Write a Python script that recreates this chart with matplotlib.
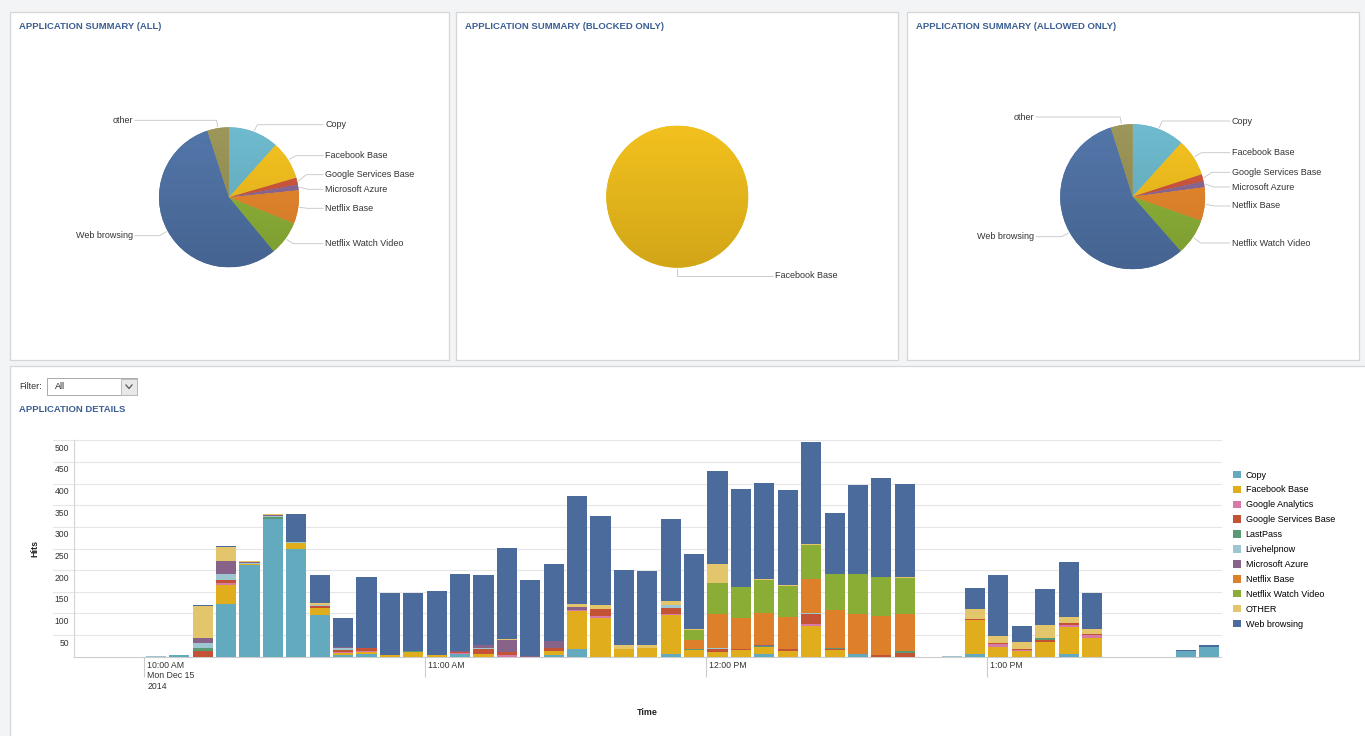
import matplotlib.pyplot as plt
import matplotlib.dates as mdates
import numpy as np
import pandas as pd
from matplotlib.colors import LinearSegmentedColormap, to_rgb
from matplotlib.patches import Rectangle
from matplotlib.transforms import ScaledTranslation

plt.rcParams["font.family"] = ["Liberation Sans", "DejaVu Sans"]

W, H = 1365, 736

# ---- pie data (share of hits, %) ----
pie_labels = ["Copy", "Facebook Base", "Google Services Base", "Microsoft Azure",
              "Netflix Base", "Netflix Watch Video", "Web browsing", "other"]
pie_colors = ["#68b2c5", "#ebba1c", "#c9543a", "#876592",
              "#e2842b", "#8aae36", "#4d6fa1", "#958f54"]
pie_all = [11.6, 8.9, 1.6, 1.3, 7.7, 7.9, 56.0, 5.0]
pie_allowed = [11.7, 8.35, 1.6, 1.3, 7.5, 8.1, 56.7, 4.9]
pie_blocked_labels = ["Facebook Base"]
pie_blocked = [100]

# ---- bar data: hits per 5 minute slot ----
slots = ["10:00", "10:05", "10:10", "10:15", "10:20", "10:25", "10:30", "10:35", "10:40", "10:45",
         "10:50", "10:55", "11:00", "11:05", "11:10", "11:15", "11:20", "11:25", "11:30", "11:35",
         "11:40", "11:45", "11:50", "11:55", "12:00", "12:05", "12:10", "12:15", "12:20", "12:25",
         "12:30", "12:35", "12:40", "12:45", "12:50", "12:55", "13:00", "13:05", "13:10", "13:15",
         "13:20", "13:25", "13:30", "13:35", "13:40", "13:45"]

copy = [0, 4, 0, 121, 212, 319, 248, 96, 3, 7,
        0, 0, 0, 6, 0, 0, 0, 4, 18, 0,
        0, 0, 7, 0, 0, 0, 7, 0, 0, 0,
        6, 0, 0, 0, 0, 7, 0, 0, 0, 7,
        0, 0, 0, 0, 14, 22]
facebook = [0, 0, 0, 44, 2, 0, 14, 16, 6, 3,
            4, 11, 3, 0, 7, 0, 0, 10, 87, 90,
            18, 19, 89, 15, 11, 15, 15, 13, 71, 15,
            0, 0, 0, 0, 0, 77, 22, 13, 35, 62,
            44, 0, 0, 0, 0, 0]
google_analytics = [0, 0, 0, 5, 0, 0, 0, 0, 3, 4,
                    0, 0, 0, 2, 0, 4, 0, 0, 3, 5,
                    0, 0, 3, 0, 0, 0, 0, 0, 4, 0,
                    0, 0, 0, 0, 0, 0, 7, 3, 0, 5,
                    5, 0, 0, 0, 0, 0]
google_services = [0, 0, 13, 8, 0, 0, 0, 5, 3, 5,
                   0, 1, 2, 3, 10, 7, 0, 7, 0, 15,
                   0, 0, 14, 0, 7, 2, 0, 5, 23, 2,
                   0, 3, 9, 0, 0, 4, 3, 2, 3, 5,
                   4, 0, 0, 0, 0, 0]
lastpass = [0, 0, 8, 0, 0, 3, 0, 0, 0, 0,
            0, 2, 0, 0, 0, 0, 0, 0, 0, 0,
            0, 0, 0, 2, 0, 0, 2, 0, 0, 2,
            0, 0, 5, 0, 0, 0, 0, 0, 6, 0,
            0, 0, 0, 0, 0, 0]
livehelpnow = [2, 0, 10, 14, 2, 3, 3, 3, 4, 0,
               0, 0, 0, 0, 4, 0, 0, 0, 0, 0,
               0, 0, 6, 0, 3, 0, 0, 0, 4, 2,
               0, 0, 0, 0, 2, 0, 0, 0, 0, 0,
               0, 0, 0, 0, 0, 0]
azure = [0, 0, 12, 29, 2, 2, 0, 0, 3, 2,
         0, 0, 0, 3, 5, 27, 2, 15, 7, 0,
         0, 0, 0, 0, 0, 0, 2, 0, 0, 0,
         0, 0, 0, 0, 0, 0, 0, 0, 0, 0,
         0, 0, 0, 0, 0, 0]
netflix_base = [0, 0, 0, 0, 0, 0, 0, 0, 0, 0,
                0, 0, 0, 0, 0, 0, 0, 0, 0, 0,
                0, 0, 0, 22, 78, 73, 75, 73, 78, 86,
                92, 92, 84, 0, 0, 0, 0, 0, 0, 0,
                0, 0, 0, 0, 0, 0]
netflix_video = [0, 0, 0, 0, 0, 0, 0, 0, 0, 0,
                 0, 0, 0, 0, 0, 0, 0, 0, 0, 0,
                 0, 0, 0, 22, 72, 70, 76, 73, 79, 84,
                 93, 90, 83, 0, 0, 0, 0, 0, 0, 0,
                 0, 0, 0, 0, 0, 0]
other = [0, 0, 75, 33, 2, 3, 0, 3, 0, 0,
         0, 0, 0, 0, 0, 2, 0, 0, 6, 9,
         9, 8, 9, 3, 44, 0, 2, 2, 1, 0,
         0, 0, 4, 0, 0, 22, 16, 15, 30, 13,
         12, 0, 0, 0, 0, 0]
web = [0, 0, 2, 2, 0, 0, 65, 66, 67, 164,
       143, 133, 146, 177, 163, 211, 176, 179, 250, 206,
       174, 170, 191, 174, 215, 227, 223, 219, 236, 141,
       206, 229, 215, 0, 0, 49, 140, 38, 82, 127,
       83, 0, 0, 0, 2, 4]

series_names = ["Copy", "Facebook Base", "Google Analytics", "Google Services Base", "LastPass",
                "Livehelpnow", "Microsoft Azure", "Netflix Base", "Netflix Watch Video",
                "OTHER", "Web browsing"]
series = [copy, facebook, google_analytics, google_services, lastpass, livehelpnow,
          azure, netflix_base, netflix_video, other, web]
bar_colors = ["#63aabf", "#e0ad1c", "#d87aa7", "#c45335", "#5b9874", "#9ec6d1",
              "#876289", "#de7f2a", "#8aae35", "#e3c56c", "#4a6b9c"]

xtick_times = ["10:00", "11:00", "12:00", "13:00"]
xtick_labels = ["10:00 AM\nMon Dec 15\n2014", "11:00 AM", "12:00 PM", "1:00 PM"]

TITLE = "#3b5e93"
TXT = "#333333"


def fax(x, y, w, h):
    return [x / W, 1 - (y + h) / H, w / W, h / H]


fig = plt.figure(figsize=(W / 100, H / 100), dpi=100)
fig.patch.set_facecolor("#f3f4f6")
bg = fig.add_axes([0, 0, 1, 1], zorder=-1)
bg.set_xlim(0, W)
bg.set_ylim(H, 0)
bg.axis("off")

# panels
for x0, y0, x1, y1 in [(10, 12, 448.5, 360), (456, 12, 898, 360),
                       (907, 12, 1359, 359.5), (10, 365.5, 1372, 740)]:
    bg.add_patch(Rectangle((x0, y0), x1 - x0, y1 - y0, facecolor="white",
                           edgecolor="#d6d6d6", lw=0.9))

for x, t in [(19, "APPLICATION SUMMARY (ALL)"), (465, "APPLICATION SUMMARY (BLOCKED ONLY)"),
             (916.3, "APPLICATION SUMMARY (ALLOWED ONLY)"), (19, "APPLICATION DETAILS")]:
    y = 409.5 if t == "APPLICATION DETAILS" else 26.7
    bg.text(x, y, t, fontsize=6.8, weight="bold", color=TITLE, va="center", ha="left")


def draw_pie(cx, cy, r, values, colors, labels, label_ys, xr, xl):
    size = 2.5 * r
    ax = fig.add_axes(fax(cx - size / 2, cy - size / 2, size, size))
    wedges, _ = ax.pie(values, colors=colors, startangle=90, counterclock=False,
                       wedgeprops=dict(linewidth=0))
    grad = np.linspace(0, 1, 256).reshape(-1, 1)
    for w, c in zip(wedges, colors):
        rgb = np.array(to_rgb(c))
        cmap = LinearSegmentedColormap.from_list("g", [np.clip(rgb * 1.03 + 0.015, 0, 1), rgb * 0.9])
        ax.imshow(grad, cmap=cmap, extent=(-1, 1, -1, 1), clip_path=w, zorder=2)
    ax.set_xlim(-1.25, 1.25)
    ax.set_ylim(-1.25, 1.25)
    ax.axis("off")
    inv = bg.transData.inverted()
    for w, lab, ly in zip(wedges, labels, label_ys):
        mid = np.deg2rad((w.theta1 + w.theta2) / 2)
        ex, ey = inv.transform(ax.transData.transform((1.02 * np.cos(mid), 1.02 * np.sin(mid))))
        right = np.cos(mid) > -0.1
        sgn = 1 if right else -1
        kx = ex + sgn * 8 * abs(np.cos(mid))
        lx = xr if right else xl
        bg.plot([ex, kx, lx - sgn * 2], [ey, ly, ly], color="#c4c4c4", lw=0.6)
        bg.text(lx, ly, lab, fontsize=6.45, color=TXT, va="center",
                ha="left" if right else "right")


draw_pie(229, 197.3, 70, pie_all, pie_colors, pie_labels,
         [124.7, 155.7, 174.7, 189.3, 208.3, 243.7, 235.7, 120.3], 325, 132.7)
draw_pie(677.3, 196.7, 71, pie_blocked, ["#e8b81a"], pie_blocked_labels, [275.7], 775, 0)
draw_pie(1132.7, 196.7, 72.5, pie_allowed, pie_colors, pie_labels,
         [121, 152.7, 172.3, 187, 206, 243, 236.7, 117], 1231.7, 1034.3)

# filter widget
bg.text(19, 386.5, "Filter:", fontsize=6.45, color=TXT, va="center")
bg.add_patch(Rectangle((47, 378.3), 90, 16.7, facecolor="white", edgecolor="#a9a9a9", lw=0.7))
bg.add_patch(Rectangle((121, 378.8), 15.5, 15.7, facecolor="#e8e8e8", edgecolor="#b5b5b5", lw=0.6))
bg.plot([126, 129, 132], [385, 388.5, 385], color="#555555", lw=0.9)
bg.text(55, 386.7, "All", fontsize=6.45, color="#222222", va="center")

# stacked bars
day = "2014-12-15 "
starts = mdates.date2num(pd.to_datetime([day + s for s in slots]))
minute = 1 / 1440
ax = fig.add_axes(fax(74, 440.3, 1146.7, 216.4))
ax.set_facecolor("none")
bottom = np.zeros(len(slots))
for name, vals, col in zip(series_names, series, bar_colors):
    vals = np.array(vals, dtype=float)
    ax.bar(starts + 2.5 * minute, vals, width=4.3 * minute, bottom=bottom,
           color=col, label=name, linewidth=0, zorder=3)
    bottom += vals

ax.set_xlim(mdates.date2num(pd.Timestamp(day + "09:45")), mdates.date2num(pd.Timestamp(day + "13:50")))
ax.set_ylim(0, 500)
for v in range(50, 501, 50):
    ax.plot([-0.0183, 1], [v, v], transform=ax.get_yaxis_transform(), color="#e6e6e6",
            lw=0.8, clip_on=False, zorder=1)

for s in ["top", "right"]:
    ax.spines[s].set_visible(False)
ax.spines["left"].set_color("#d5d5d5")
ax.spines["bottom"].set_color("#cccccc")
ax.spines["left"].set_linewidth(0.8)
ax.spines["bottom"].set_linewidth(0.8)

ax.set_yticks(range(50, 501, 50))
ax.tick_params(axis="y", length=0, pad=3.6, labelsize=6.2, labelcolor=TXT)
for lab in ax.get_yticklabels():
    lab.set_transform(lab.get_transform() + ScaledTranslation(0, -0.07, fig.dpi_scale_trans))

ax.set_xticks(mdates.date2num(pd.to_datetime([day + t for t in xtick_times])))
ax.set_xticklabels(xtick_labels)
ax.tick_params(axis="x", length=14.4, width=0.8, color="#cccccc", pad=-11.5,
               labelsize=6.3, labelcolor=TXT)
for lab in ax.get_xticklabels():
    lab.set_ha("left")
    lab.set_transform(lab.get_transform() + ScaledTranslation(0.03, 0, fig.dpi_scale_trans))

ax.set_ylabel("Hits", fontsize=6.4, weight="bold", color="#222222")
ax.yaxis.set_label_coords(-0.030, 0.50)
ax.set_xlabel("Time", fontsize=6.4, weight="bold", color="#222222")
ax.xaxis.set_label_coords(0.5, -0.238)

ax.legend(loc="upper left", bbox_to_anchor=(1232.7 / W, 1 - 470.5 / H),
          bbox_transform=fig.transFigure, frameon=False, fontsize=6.45,
          handlelength=0.9, handleheight=0.9, handletextpad=0.55,
          labelspacing=0.66, borderpad=0, borderaxespad=0)

fig.savefig("out.png", dpi=100)
